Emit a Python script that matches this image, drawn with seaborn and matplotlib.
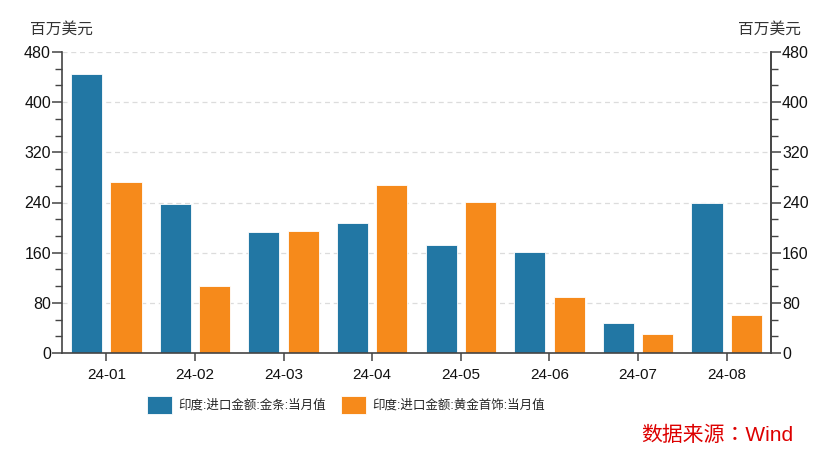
import pandas as pd
import seaborn as sb
import matplotlib.pyplot as plt
from matplotlib.ticker import AutoMinorLocator

months = ["24-01", "24-02", "24-03", "24-04", "24-05", "24-06", "24-07", "24-08"]
gold_bar = [445, 238, 193, 207, 172, 161, 48, 240]
gold_jewelry = [273, 107, 195, 268, 241, 89, 30, 60]
series_names = ["印度:进口金额:金条:当月值", "印度:进口金额:黄金首饰:当月值"]
colors = ["#2277a4", "#f68a1b"]
yticks = [0, 80, 160, 240, 320, 400, 480]

df = pd.DataFrame({
    "month": months * 2,
    "value": gold_bar + gold_jewelry,
    "series": [series_names[0]] * len(months) + [series_names[1]] * len(months),
})

sb.set_style("white")
plt.rcParams['font.family'] = ['Liberation Sans', 'Noto Sans CJK SC', 'DejaVu Sans']

fig = plt.figure(figsize=(8.32, 4.62), dpi=100)
ax = fig.add_axes([62 / 832, 1 - 353 / 462, (771 - 62) / 832, (353 - 52) / 462])

sb.barplot(data=df, x="month", y="value", hue="series", palette=colors,
           width=0.89, gap=0.21, edgecolor="#ffffff", linewidth=0.6,
           saturation=1, ax=ax, legend=True)

ax.set_xlim(-0.5, len(months) - 0.5)
ax.set_ylim(0, 480)
ax.set_yticks(yticks)
ax.yaxis.set_minor_locator(AutoMinorLocator(3))
ax.set_xlabel("")
ax.set_ylabel("")
ax.grid(axis="y", color="#dcdcdc", linestyle=(0, (4, 3)), linewidth=0.9)
ax.set_axisbelow(True)

ax.spines["top"].set_visible(False)
for side in ["left", "bottom", "right"]:
    ax.spines[side].set_color("#444444")
    ax.spines[side].set_linewidth(1.2)

ax.tick_params(axis="y", which="major", length=7, width=1.1, color="#444444",
               labelsize=11.5, pad=1, left=True, labelcolor="#111111")
ax.tick_params(axis="y", which="minor", length=5, width=1.0, color="#444444", left=True)
ax.tick_params(axis="x", length=6, width=1.1, color="#444444", labelsize=11,
               pad=5, bottom=True, labelcolor="#111111")

ax2 = ax.twinx()
ax2.set_ylim(0, 480)
ax2.set_yticks(yticks)
ax2.yaxis.set_minor_locator(AutoMinorLocator(3))
for side in ["top", "left", "bottom"]:
    ax2.spines[side].set_visible(False)
ax2.spines["right"].set_color("#444444")
ax2.spines["right"].set_linewidth(1.2)
ax2.tick_params(axis="y", which="major", length=7, width=1.1, color="#444444",
                labelsize=11.5, pad=1, labelcolor="#111111")
ax2.tick_params(axis="y", which="minor", length=5, width=1.0, color="#444444")

fig.text(30 / 832, 1 - 29 / 462, "百万美元", fontsize=11.3, color="#333333",
         ha="left", va="center")
fig.text(801 / 832, 1 - 29 / 462, "百万美元", fontsize=11.3, color="#333333",
         ha="right", va="center")

handles, labels = ax.get_legend_handles_labels()
ax.legend_.remove()
fig.legend(handles, labels, loc="center", bbox_to_anchor=(346 / 832, 1 - 405 / 462),
           ncol=2, frameon=False, fontsize=9.0, handlelength=2.0, handleheight=1.95,
           columnspacing=1.15, handletextpad=0.5)

fig.text(793 / 832, 1 - 435 / 462, "数据来源：Wind", fontsize=15, color="#dd0000",
         ha="right", va="center", family=['Liberation Sans', 'Noto Sans CJK TC'])

fig.savefig("out.png", dpi=100)
